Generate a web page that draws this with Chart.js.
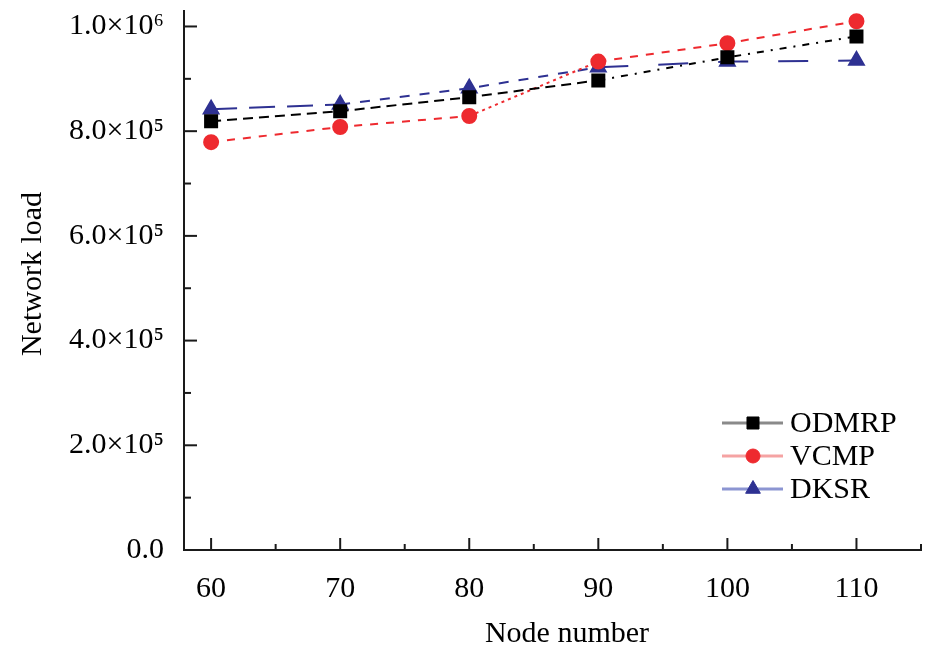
<!DOCTYPE html>
<html>
<head>
<meta charset="utf-8">
<script src="https://cdn.jsdelivr.net/npm/chart.js@4.4.1/dist/chart.umd.min.js"></script>
<style>
  body { margin: 0; background: #fff; }
  #wrap { width: 945px; height: 654px; }
</style>
</head>
<body>
<div id="wrap"><canvas id="loadChart"></canvas></div>
<script>
// data
const nodes = [60, 70, 80, 90, 100, 110];
const odmrp = [819000, 838000, 865000, 897000, 941000, 981000];
const vcmp = [779000, 808000, 829000, 933000, 968000, 1010000];
const dksr = [842000, 851000, 882000, 922000, 933000, 935000];

const yTicks = [0, 200000, 400000, 600000, 800000, 1000000];
const yTickLabels = ['0.0', '2.0×10⁵', '4.0×10⁵', '6.0×10⁵', '8.0×10⁵', '1.0×10⁶'];
const xTicks = [60, 70, 80, 90, 100, 110];

const FONT = "'Liberation Serif', 'Times New Roman', serif";
const RED = '#ee2a2f';
const BLUE = '#2e3192';

function pts(vals) {
  return nodes.map((n, i) => ({ x: n, y: vals[i] }));
}

// inward tick marks + axis titles + legend box
const decor = {
  id: 'decor',
  afterDraw(chart) {
    const c = chart.ctx;
    const xs = chart.scales.x, ys = chart.scales.y;
    const left = chart.chartArea.left, bottom = chart.chartArea.bottom;
    c.save();
    c.strokeStyle = '#1a1a1a';
    c.lineWidth = 2;
    for (let v = 0; v <= 1000000; v += 100000) {
      const y = ys.getPixelForValue(v);
      const len = (v % 200000 === 0) ? 13 : 7;
      c.beginPath(); c.moveTo(left, y); c.lineTo(left + len, y); c.stroke();
    }
    for (let v = 60; v <= 115; v += 5) {
      const x = xs.getPixelForValue(v);
      const len = (v % 10 === 0) ? 12 : 6;
      c.beginPath(); c.moveTo(x, bottom); c.lineTo(x, bottom - len); c.stroke();
    }

    // axis titles
    c.fillStyle = '#000';
    c.font = '30px ' + FONT;
    c.textAlign = 'center';
    c.textBaseline = 'middle';
    c.fillText('Node number', 567, 634);
    c.translate(33, 274);
    c.rotate(-Math.PI / 2);
    c.fillText('Network load', 0, 0);
    c.restore();

    // legend
    c.save();
    const rows = [
      { label: 'ODMRP', line: '#8a8a8a', ds: 0 },
      { label: 'VCMP', line: '#f5a3a3', ds: 1 },
      { label: 'DKSR', line: '#8c95d2', ds: 2 }
    ];
    rows.forEach((r, i) => {
      const y = 423 + i * 33;
      const ds = chart.data.datasets[r.ds];
      c.strokeStyle = r.line;
      c.lineWidth = 3;
      c.beginPath(); c.moveTo(722, y); c.lineTo(783, y); c.stroke();
      c.fillStyle = ds.pointBackgroundColor;
      c.strokeStyle = ds.pointBorderColor;
      c.lineWidth = 1;
      Chart.helpers.drawPoint(c, { pointStyle: ds.pointStyle, radius: ds.pointRadius, borderWidth: 1 }, 753, y);
      c.fillStyle = '#000';
      c.font = '30px ' + FONT;
      c.textAlign = 'left';
      c.textBaseline = 'middle';
      c.fillText(r.label, 790, y + 1);
    });
    c.restore();
  }
};

new Chart(document.getElementById('loadChart'), {
  type: 'scatter',
  data: {
    datasets: [
      {
        label: 'ODMRP',
        data: pts(odmrp),
        showLine: true,
        borderColor: '#000',
        borderWidth: 2,
        borderDash: [10, 6],
        segment: { borderDash: ctx => ctx.p0DataIndex >= 3 ? [7, 7, 2, 7] : [10, 6] },
        pointStyle: 'rect',
        pointRadius: 8.5,
        pointBackgroundColor: '#000',
        pointBorderColor: '#000'
      },
      {
        label: 'VCMP',
        data: pts(vcmp),
        showLine: true,
        borderColor: RED,
        borderWidth: 2,
        borderDash: [8, 8],
        segment: { borderDash: ctx => ctx.p0DataIndex === 2 ? [3, 4] : [8, 8] },
        pointStyle: 'circle',
        pointRadius: 7,
        pointBackgroundColor: RED,
        pointBorderColor: RED
      },
      {
        label: 'DKSR',
        data: pts(dksr),
        showLine: true,
        borderColor: BLUE,
        borderWidth: 2,
        borderDash: [20, 10],
        segment: { borderDash: ctx => ctx.p0DataIndex >= 3 ? [30, 30] : (ctx.p0DataIndex === 0 ? [26, 12] : [10, 10]) },
        pointStyle: 'triangle',
        pointRadius: 8.5,
        pointBackgroundColor: BLUE,
        pointBorderColor: BLUE
      }
    ]
  },
  options: {
    responsive: true,
    maintainAspectRatio: false,
    animation: false,
    layout: { padding: { left: 0, right: 24, top: 9, bottom: 0 } },
    plugins: { legend: { display: false }, tooltip: { enabled: false } },
    scales: {
      x: {
        type: 'linear',
        min: 57.9,
        max: 115,
        grid: { display: false, drawTicks: false },
        border: { display: true, color: '#1a1a1a', width: 2 },
        afterBuildTicks: s => { s.ticks = xTicks.map(v => ({ value: v })); },
        afterFit: s => { s.height = 104; s.paddingLeft = 0; s.paddingRight = 0; },
        ticks: { padding: 21, color: '#000', font: { family: FONT, size: 30 } }
      },
      y: {
        min: 0,
        max: 1030500,
        grid: { display: false, drawTicks: false },
        border: { display: true, color: '#1a1a1a', width: 2 },
        afterBuildTicks: s => { s.ticks = yTicks.map(v => ({ value: v })); },
        afterFit: s => { s.width = 184; s.paddingTop = 0; s.paddingBottom = 0; },
        ticks: {
          padding: 20,
          color: '#000',
          font: { family: FONT, size: 30 },
          callback: v => yTickLabels[yTicks.indexOf(v)]
        }
      }
    }
  },
  plugins: [decor]
});
</script>
</body>
</html>
